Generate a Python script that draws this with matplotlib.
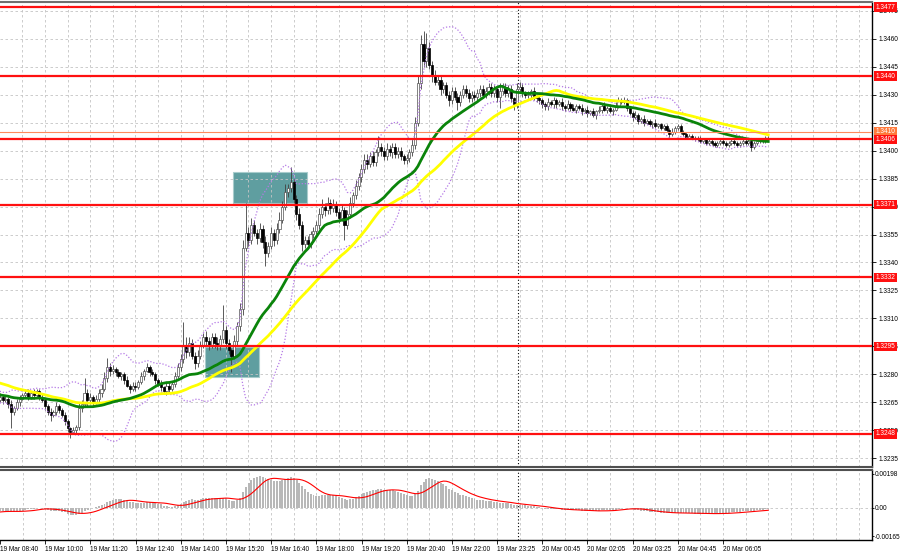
import numpy as np
import pandas as pd
import matplotlib
matplotlib.use("Agg")
from matplotlib import pyplot as plt
from matplotlib.patches import Rectangle
import matplotlib.transforms as mtransforms

plt.rcParams['font.family'] = ['Liberation Sans', 'DejaVu Sans']

BASE = 1.3200   # all candle values are pips above this price

# hidden history before the first bar on screen, only feeds the MAs / MACD
warmup = [86, 88, 87, 89, 90, 88, 86, 87, 85, 84, 86, 88, 87, 85, 83, 84, 82, 80, 81, 79,
          77, 75, 73, 72, 74, 71, 70, 72, 69, 68, 70, 71, 69, 67, 66, 68, 70, 69, 67, 65,
          66, 68, 67, 69, 70, 68, 66, 67, 69, 66]

# M5 closes, 19 Mar 08:40 -> 20 Mar ~07:25
close_pips = [68, 66, 67, 64, 60, 62, 65, 67, 69, 70,
              68, 70, 69, 71, 68, 66, 63, 60, 58, 60,
              63, 61, 58, 55, 51, 49, 50, 52, 62, 64,
              70, 66, 68, 65, 67, 70, 72, 78, 84, 82,
              83, 81, 79, 80, 77, 74, 72, 74, 73, 76,
              79, 82, 84, 81, 80, 77, 75, 73, 71, 74,
              72, 75, 79, 84, 88, 96, 92, 97, 90, 86,
              90, 96, 100, 98, 96, 100, 97, 95, 99, 104,
              97, 93, 90, 98, 106, 115, 148, 156, 152, 160,
              156, 153, 158, 151, 145, 149, 156, 152, 158, 163,
              170, 178, 180, 183, 174, 166, 160, 150, 152, 150,
              155, 157, 160, 166, 170, 168, 172, 169, 171, 167,
              164, 168, 160, 166, 172, 176, 181, 186, 190, 195,
              193, 197, 194, 199, 202, 200, 197, 201, 199, 202,
              198, 200, 197, 195, 196, 199, 203, 215, 236, 257,
              248, 255, 246, 240, 237, 238, 233, 235, 230, 227,
              232, 229, 226, 230, 233, 231, 228, 230, 229, 231,
              233, 230, 232, 234, 231, 233, 229, 232, 234, 231,
              233, 228, 225, 233, 234, 231, 230, 230, 232, 229,
              228, 227, 225, 224, 226, 225, 227, 225, 226, 224,
              223, 225, 223, 222, 224, 223, 221, 222, 220, 221,
              219, 221, 222, 224, 222, 223, 221, 222, 224, 227,
              226, 227, 223, 220, 218, 219, 216, 217, 215, 216,
              214, 215, 213, 214, 212, 213, 211, 209, 210, 212,
              213, 210, 209, 207, 208, 207, 206, 207, 205, 206,
              204, 205, 204, 203, 204, 205, 204, 203, 204, 205,
              204, 203, 204, 205, 204, 205, 202, 204, 205, 206,
              205, 207, 206]

# wick lengths (pips) above / below the body
upwick = [2, 1, 2, 1, 2, 1, 2, 2, 1, 2,
          2, 1, 2, 1, 1, 2, 1, 1, 2, 1,
          2, 1, 1, 2, 1, 1, 2, 1, 3, 2,
          8, 2, 2, 1, 2, 2, 3, 3, 5, 2,
          2, 1, 2, 1, 1, 2, 1, 2, 2, 1,
          2, 1, 2, 1, 2, 1, 1, 2, 1, 2,
          2, 1, 2, 2, 3, 12, 4, 3, 2, 2,
          3, 2, 2, 3, 2, 2, 2, 3, 2, 13,
          2, 2, 1, 3, 2, 3, 4, 16, 3, 4,
          3, 2, 3, 2, 3, 2, 3, 2, 3, 4,
          3, 4, 2, 8, 2, 2, 3, 2, 2, 2,
          2, 2, 2, 3, 4, 2, 3, 2, 3, 2,
          2, 3, 2, 2, 3, 2, 3, 2, 3, 3,
          3, 2, 3, 2, 6, 2, 2, 3, 2, 2,
          2, 2, 2, 1, 2, 2, 3, 3, 4, 5,
          7, 8, 3, 2, 3, 2, 2, 2, 2, 2,
          2, 2, 2, 2, 2, 2, 2, 2, 2, 2,
          2, 2, 2, 2, 2, 2, 1, 4, 2, 2,
          2, 2, 1, 3, 3, 2, 1, 2, 1, 2,
          1, 2, 1, 1, 2, 1, 2, 1, 1, 2,
          1, 2, 1, 2, 1, 1, 2, 1, 2, 1,
          2, 1, 2, 1, 2, 1, 2, 1, 2, 2,
          1, 2, 1, 1, 1, 2, 1, 1, 2, 1,
          1, 1, 2, 1, 1, 1, 1, 1, 2, 1,
          1, 1, 1, 1, 1, 1, 1, 1, 1, 1,
          1, 1, 1, 1, 1, 1, 1, 1, 1, 1,
          1, 1, 1, 1, 1, 1, 1, 1, 1, 1,
          1, 1, 1]
dnwick = [1, 2, 1, 2, 9, 2, 1, 2, 1, 1,
          2, 1, 2, 1, 2, 1, 2, 2, 3, 1,
          2, 2, 1, 2, 2, 3, 1, 2, 2, 2,
          1, 3, 2, 2, 1, 2, 2, 1, 2, 3,
          2, 2, 1, 2, 2, 1, 2, 1, 2, 1,
          1, 2, 1, 2, 1, 2, 1, 2, 1, 2,
          2, 1, 2, 1, 2, 2, 3, 2, 2, 3,
          2, 2, 2, 2, 3, 2, 3, 2, 2, 2,
          3, 2, 9, 2, 2, 3, 3, 2, 3, 2,
          2, 3, 2, 3, 7, 2, 2, 3, 2, 2,
          2, 2, 3, 2, 2, 3, 2, 4, 2, 2,
          2, 2, 2, 2, 2, 3, 2, 3, 2, 2,
          3, 2, 8, 2, 2, 2, 2, 2, 3, 2,
          3, 2, 2, 2, 2, 3, 2, 2, 2, 3,
          2, 2, 2, 2, 2, 2, 2, 2, 2, 3,
          3, 3, 2, 3, 2, 2, 3, 2, 2, 3,
          2, 2, 4, 2, 2, 2, 2, 2, 2, 2,
          2, 2, 2, 2, 2, 2, 3, 6, 2, 2,
          2, 2, 3, 2, 2, 2, 2, 2, 2, 2,
          2, 2, 2, 2, 2, 1, 2, 2, 1, 2,
          2, 1, 2, 1, 2, 1, 2, 1, 2, 1,
          1, 2, 1, 2, 1, 2, 1, 2, 1, 1,
          1, 1, 2, 1, 2, 1, 2, 1, 2, 1,
          1, 2, 1, 1, 1, 1, 1, 2, 1, 1,
          1, 1, 1, 1, 1, 1, 1, 1, 1, 1,
          1, 1, 1, 1, 1, 1, 1, 1, 1, 1,
          1, 1, 1, 1, 1, 1, 2, 1, 1, 1,
          1, 1, 1]

levels = [1.3477, 1.3440, 1.3406, 1.3371, 1.3332, 1.3295, 1.3248]
ask_price = 1.3410
bid_price = 1.3407
price_ticks = [1.3475, 1.3460, 1.3445, 1.3430, 1.3415, 1.3400, 1.3385, 1.3370, 1.3355,
               1.3340, 1.3325, 1.3310, 1.3295, 1.3280, 1.3265, 1.3250, 1.3235]
time_bars = [0, 16, 32, 48, 64, 80, 96, 112, 128, 144, 160, 176, 192, 208, 224, 240, 256]
time_labels = ["19 Mar 08:40", "19 Mar 10:00", "19 Mar 11:20", "19 Mar 12:40", "19 Mar 14:00",
               "19 Mar 15:20", "19 Mar 16:40", "19 Mar 18:00", "19 Mar 19:20", "19 Mar 20:40",
               "19 Mar 22:00", "19 Mar 23:25", "20 Mar 00:45", "20 Mar 02:05", "20 Mar 03:25",
               "20 Mar 04:45", "20 Mar 06:05"]
# signal zones: first bar, last bar, low, high
zones = [(72.6, 91.8, 1.32786, 1.32946), (82.5, 108.7, 1.33719, 1.33885)]
day_sep = 183.3
macd_ticks = [0.00198, 0.0, -0.00165]
macd_tick_labels = ["0.00198", "0.00", "-0.00165"]

FS = 4.7

# ---- series
allc = pd.Series(BASE + np.array(warmup + close_pips) / 10000.0)
nw = len(warmup)
idx_all = np.arange(len(allc)) - nw
ma_green = allc.rolling(30).mean()
ma_yellow = allc.rolling(50).mean()
bb_mid = allc.rolling(20).mean()
bb_sd = allc.rolling(20).std(ddof=0)
bb_up = bb_mid + 2 * bb_sd
bb_dn = bb_mid - 2 * bb_sd
macd = allc.ewm(span=12, adjust=False).mean() - allc.ewm(span=26, adjust=False).mean()
signal = macd.rolling(9).mean()

c = allc.values[nw:]
o = allc.values[nw - 1:-1]
n = len(c)
x = np.arange(n)
hi = np.maximum(o, c) + np.array(upwick) / 10000.0
lo = np.minimum(o, c) - np.array(dnwick) / 10000.0
vis = idx_all >= 0

# ---- figure
fig = plt.figure(figsize=(9, 5.55), dpi=100)
ax = fig.add_axes([0, 88 / 555, 872 / 900, 465 / 555])
ax2 = fig.add_axes([0, 15 / 555, 872 / 900, 70 / 555])

XL = (0.07, 308.74)
grid_kw = dict(color='#c4c4c4', lw=0.6, linestyle=(0, (3, 3)), zorder=1)
for a in (ax, ax2):
    a.set_xlim(*XL)
    a.set_facecolor('white')
    for gx in range(8, 309, 8):
        a.axvline(gx, **grid_kw)
    a.axvline(day_sep, color='#000000', lw=0.8, linestyle=(0, (1, 2)), zorder=2)

ax.set_ylim(1.32303, 1.34797)
for p in price_ticks:
    ax.axhline(p, **grid_kw)

for z0, z1, zl, zh in zones:
    ax.add_patch(Rectangle((z0, zl), z1 - z0, zh - zl, facecolor='#5f9ea0',
                           edgecolor='#a8cccc', lw=0.8, zorder=0.5))

# candles
ax.vlines(x, lo, hi, color='#404040', lw=0.6, zorder=3)
bull = c >= o
body = np.maximum(np.abs(c - o), 0.00002)
ax.bar(x[bull], body[bull], bottom=np.minimum(o, c)[bull], width=0.75,
       color='white', edgecolor='#505050', lw=0.5, zorder=3.1)
ax.bar(x[~bull], body[~bull], bottom=np.minimum(o, c)[~bull], width=0.75,
       color='black', edgecolor='black', lw=0.5, zorder=3.1)

ax.plot(idx_all[vis], bb_up[vis], color='#b57ae6', lw=0.9, linestyle=(0, (1, 1.5)), zorder=4)
ax.plot(idx_all[vis], bb_dn[vis], color='#b57ae6', lw=0.9, linestyle=(0, (1, 1.5)), zorder=4)
ax.plot(idx_all[vis], ma_yellow[vis], color='#ffff00', lw=2.0, zorder=5)
ax.plot(idx_all[vis], ma_green[vis], color='#0a840a', lw=2.0, zorder=5.1)

ax.axhline(ask_price, color='#ff8a5c', lw=0.8, zorder=6)
ax.axhline(bid_price, color='#c8c8c8', lw=0.8, zorder=6)
for lv in levels:
    ax.axhline(lv, color='#ff1010', lw=1.6, zorder=6)

# price scale
ax.yaxis.tick_right()
ax.set_yticks(price_ticks)
ax.set_yticklabels(["%.4f" % p for p in price_ticks])
ax.tick_params(axis='y', direction='out', length=3, width=0.6, pad=1.5, labelsize=FS,
               colors='black')
ax.set_xticks([])

trans = mtransforms.blended_transform_factory(ax.transAxes, ax.transData)
box = dict(boxstyle='square,pad=0.2', lw=0)
ax.text(1.004, bid_price, "1.3407", transform=trans, fontsize=FS, color='white',
        va='center', ha='left', bbox=dict(box, facecolor='black'), zorder=7, clip_on=False)
ax.text(1.004, ask_price, "1.3410", transform=trans, fontsize=FS, color='white',
        va='center', ha='left', bbox=dict(box, facecolor='#ff7a3c'), zorder=8, clip_on=False)
for lv in levels:
    ax.text(1.004, lv, "%.4f" % lv, transform=trans, fontsize=FS, color='white',
            va='center', ha='left', bbox=dict(box, facecolor='#ff1010'), zorder=9, clip_on=False)

# MACD panel
ax2.set_ylim(-0.00188, 0.00221)
ax2.axhline(0, **grid_kw)
ax2.bar(idx_all[vis], macd[vis], width=0.7, color='#b8b8b8', zorder=2)
ax2.plot(idx_all[vis], signal[vis], color='#ff0000', lw=0.8, zorder=3)
ax2.yaxis.tick_right()
ax2.set_yticks(macd_ticks)
ax2.set_yticklabels(macd_tick_labels)
ax2.tick_params(axis='y', direction='out', length=1.5, width=0.6, pad=0.3, labelsize=FS)
ax2.set_xticks(time_bars)
ax2.set_xticklabels(time_labels, ha='left')
ax2.tick_params(axis='x', direction='out', length=3, width=0.6, pad=1.5, labelsize=FS)

for a in (ax, ax2):
    a.spines['left'].set_visible(False)
    a.spines['right'].set_color('black')
    a.spines['right'].set_linewidth(1.0)
ax.spines['top'].set_color('#707070')
ax.spines['top'].set_linewidth(1.5)
ax.spines['bottom'].set_color('#505050')
ax.spines['bottom'].set_linewidth(1.5)
ax2.spines['top'].set_color('#505050')
ax2.spines['top'].set_linewidth(1.5)
ax2.spines['bottom'].set_color('black')
ax2.spines['bottom'].set_linewidth(1.0)

fig.savefig("out.png", dpi=100, facecolor='white')
